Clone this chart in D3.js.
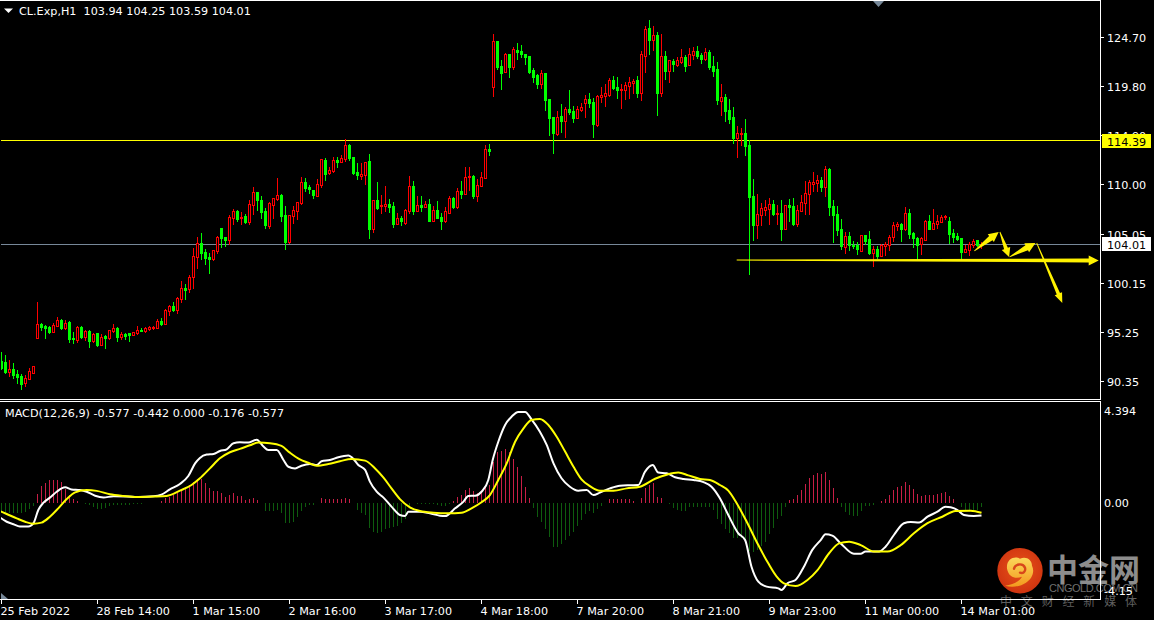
<!DOCTYPE html>
<html>
<head>
<meta charset="utf-8">
<title>CL.Exp H1</title>
<script src="https://cdn.jsdelivr.net/npm/d3@7/dist/d3.min.js"></script>
<style>
  html, body { margin: 0; padding: 0; background: #000; overflow: hidden; }
  svg { display: block; }
  text { font-family: "DejaVu Sans", sans-serif; font-size: 11.2px; fill: #fff; }
</style>
</head>
<body>
<svg id="chart" width="1154" height="620"></svg>
<script>
// Hourly candles, one entry per bar
const opens = [
92.3,92.2,91.2,91.5,91.0,90.8,90.1,90.5,91.1,94.6,
96.0,95.8,95.7,95.2,95.8,96.4,95.6,96.2,94.6,94.4,
95.7,94.7,95.3,94.3,95.1,93.9,94.8,94.6,95.3,95.6,
94.7,95.0,95.1,94.9,95.1,95.4,95.3,95.5,95.6,95.6,
96.3,96.0,97.3,97.8,97.4,98.5,99.6,99.5,100.7,102.7,
104.1,103.2,102.7,102.5,103.3,105.6,104.7,104.4,106.6,107.3,
106.6,106.8,106.2,107.9,109.2,108.4,107.3,105.8,107.9,108.5,
108.9,106.9,104.2,106.8,107.3,108.1,110.2,109.7,109.4,108.8,
109.9,112.4,111.1,111.3,112.4,112.2,112.5,113.9,112.7,111.2,
110.8,110.9,112.3,105.5,108.4,107.8,107.8,108.0,107.8,106.0,
106.6,106.1,107.3,109.8,107.3,107.9,107.7,108.0,106.3,107.4,
106.7,106.3,107.1,108.6,107.7,109.3,109.0,110.7,110.8,108.8,
109.8,110.6,113.5,119.7,124.3,121.8,121.2,123.0,121.7,123.4,
123.3,123.0,122.8,121.4,120.9,120.0,121.1,118.5,116.7,115.0,
116.8,116.3,117.5,117.3,116.6,117.4,118.1,118.5,118.2,115.9,
118.7,118.8,118.9,120.4,119.7,119.4,119.4,119.8,120.1,120.4,
119.1,122.8,125.6,124.4,124.9,119.1,122.8,121.3,122.3,121.9,
122.2,122.7,121.9,122.9,123.3,122.9,122.5,123.2,121.8,121.5,
118.3,118.7,117.4,116.7,114.6,115.0,115.1,113.9,108.8,105.9,
106.9,107.4,107.5,108.0,107.0,107.1,105.5,107.9,107.8,106.0,
107.3,108.1,109.0,110.0,110.1,110.4,109.7,111.5,107.8,107.0,
105.5,103.7,104.8,103.9,103.9,103.3,104.9,104.5,103.1,103.5,
102.8,103.8,103.9,104.7,105.8,106.0,105.5,107.1,105.1,104.6,
104.0,104.4,106.3,105.5,106.0,106.2,106.7,106.3,105.1,104.8,
104.6,103.2,103.4,103.9,104.4,103.94];

const highs = [
93.2,92.9,92.4,92.1,91.4,91.0,90.9,91.6,91.8,98.2,
96.1,95.9,95.8,96.1,96.7,96.5,96.4,96.3,95.2,95.8,
95.8,95.4,95.4,95.1,95.1,95.0,94.9,95.4,96.0,95.7,
95.2,95.1,95.1,95.2,95.8,95.6,95.7,95.8,95.8,96.5,
96.6,97.5,97.9,98.2,98.7,100.3,100.0,100.9,103.6,104.7,
105.1,103.5,103.1,103.4,104.8,105.6,104.7,106.9,107.5,107.4,
107.2,107.0,108.4,109.7,109.2,108.8,107.6,108.2,108.6,110.6,
109.0,107.8,106.9,107.8,108.2,110.7,110.6,109.9,109.4,110.5,
112.5,112.6,111.7,112.7,112.7,112.9,114.5,114.0,112.7,112.1,
112.1,112.2,113.0,108.4,110.2,108.9,109.8,108.5,108.2,107.1,
106.8,107.5,110.8,110.3,108.8,108.8,108.3,108.5,107.8,108.3,
107.1,107.7,108.8,108.7,109.6,110.3,111.7,111.7,110.9,110.5,
111.2,113.9,114.0,125.0,124.3,122.4,123.1,123.0,123.7,124.1,
123.9,123.0,122.8,121.6,121.0,121.4,121.1,118.5,116.7,117.3,
118.0,117.7,119.4,117.8,117.8,118.1,118.9,119.1,118.6,118.9,
119.7,120.0,120.6,120.8,120.7,120.0,120.2,120.7,120.5,120.8,
123.3,125.8,126.4,125.8,125.2,125.0,123.3,122.4,122.5,122.7,
123.5,122.9,123.6,123.7,123.8,123.1,123.6,123.4,122.8,122.2,
120.0,119.0,118.5,117.7,115.8,115.6,116.5,114.4,110.5,109.0,
108.1,108.4,108.6,108.4,107.9,108.4,107.9,108.5,108.6,107.9,
108.9,110.3,110.4,111.2,110.9,110.7,111.8,111.6,108.4,107.8,
106.5,105.2,105.2,104.3,104.2,104.9,104.9,105.3,103.8,103.8,
104.0,104.2,104.9,106.2,106.2,106.1,107.7,107.5,105.2,104.7,
104.7,106.4,106.9,107.5,106.9,106.9,106.9,106.7,105.5,105.1,
104.6,103.9,104.2,104.5,104.4,104.25];

const lows = [
91.5,91.1,90.8,90.6,90.1,89.5,89.8,90.5,91.1,94.6,
95.4,94.6,95.1,95.2,95.8,95.5,95.5,94.2,94.1,94.2,
94.6,94.4,93.7,94.2,93.8,93.9,93.6,94.5,95.2,94.3,
94.5,94.5,94.3,94.9,95.0,95.3,95.2,95.4,95.5,95.6,
95.9,96.0,96.9,97.3,97.1,98.2,98.5,99.2,99.6,101.6,
102.5,102.0,101.1,102.4,103.1,103.7,103.8,104.0,106.0,106.3,
106.0,106.1,106.0,107.0,107.4,106.6,105.6,105.6,106.6,108.4,
106.3,103.5,104.1,106.1,106.5,108.0,109.3,109.1,108.6,108.8,
109.7,110.4,111.0,111.2,111.7,112.2,112.3,112.4,111.0,110.5,
110.5,110.0,104.6,105.2,107.5,107.1,107.3,107.2,105.7,106.0,
105.9,106.0,107.1,107.0,107.3,107.3,107.7,106.3,106.3,106.6,
105.5,106.2,107.1,107.6,107.6,108.6,109.0,109.4,108.6,108.3,
109.8,110.6,112.9,118.8,121.5,119.5,121.2,120.7,121.5,122.5,
122.7,122.0,121.1,120.2,119.6,119.6,117.4,114.9,113.1,114.9,
115.2,114.7,117.0,116.2,116.6,117.3,116.7,117.7,114.7,115.8,
118.2,117.8,118.8,119.5,118.6,117.6,118.5,118.6,119.1,118.7,
118.4,121.2,123.0,123.4,116.9,118.8,120.5,120.2,121.3,121.8,
122.1,121.3,121.9,122.5,122.6,122.1,122.4,121.5,120.8,118.0,
116.9,116.3,116.1,114.1,112.7,113.9,112.9,101.0,104.4,104.6,
105.9,106.9,106.0,106.9,106.0,104.4,105.5,106.3,105.9,105.8,
107.3,107.0,107.0,109.3,109.3,109.3,108.8,106.9,104.2,104.9,
103.5,103.1,103.4,103.6,103.0,103.3,104.0,103.0,101.8,102.6,
102.8,102.9,103.4,104.3,105.4,104.3,105.4,104.6,103.7,102.5,
103.0,104.4,105.5,105.5,105.6,106.2,106.5,104.1,104.2,104.4,
102.5,103.2,102.9,103.7,103.8,103.59];

const closes = [
91.6,91.2,91.5,90.9,90.7,90.0,90.6,91.3,91.8,96.0,
95.7,95.6,95.2,95.9,96.4,95.6,96.1,94.5,94.5,95.7,
94.7,95.3,94.3,95.0,93.9,94.7,94.6,95.4,95.6,94.7,
95.0,94.8,94.9,95.2,95.4,95.3,95.6,95.7,95.7,96.3,
96.0,97.4,97.8,97.4,98.6,99.6,99.4,100.7,102.8,104.1,
103.1,102.6,102.5,103.4,104.7,104.6,104.4,106.7,107.3,106.5,
106.7,106.2,108.0,109.2,108.4,107.2,105.9,108.1,108.6,108.9,
106.8,104.2,106.9,107.4,108.2,110.2,109.6,109.5,108.9,110.0,
112.5,111.0,111.4,112.4,112.2,112.6,113.9,112.6,111.1,110.9,
111.0,112.2,105.5,108.4,107.6,107.9,108.0,107.7,106.0,106.6,
106.3,107.4,109.8,107.3,107.9,107.7,108.0,106.3,107.4,106.6,
106.3,107.3,108.6,107.7,109.3,109.0,110.7,110.8,108.8,109.9,
110.7,113.5,113.3,124.3,121.7,121.1,123.0,121.7,123.5,123.2,
123.0,122.7,121.2,120.7,120.0,121.1,118.4,116.6,115.1,116.7,
116.3,117.5,117.2,116.6,117.5,117.7,118.5,118.1,116.0,118.8,
118.9,119.1,120.4,119.6,119.4,119.5,119.9,120.2,120.3,119.1,
123.0,125.5,124.4,124.9,119.1,122.8,121.3,122.4,122.0,122.4,
122.7,121.8,123.0,123.3,122.8,122.5,123.2,121.7,121.3,118.4,
118.7,117.3,116.5,114.6,115.1,115.1,113.8,108.7,105.9,107.0,
107.6,107.7,108.0,107.0,107.1,105.5,107.9,107.7,106.0,107.4,
108.2,109.1,110.2,110.2,110.4,109.7,111.5,107.7,106.9,105.4,
103.8,104.8,103.9,103.8,103.5,104.9,104.3,103.1,103.5,102.8,
103.9,104.0,104.7,105.9,106.0,105.5,107.1,105.0,104.6,103.9,
104.6,106.3,105.5,106.1,106.3,106.7,106.8,105.0,104.7,104.5,
103.2,103.5,104.0,104.3,103.9,104.01];

// MACD histogram, one entry per bar
const histogram = [
-0.44,-0.47,-0.47,-0.47,-0.44,-0.44,-0.39,-0.28,-0.12,0.44,
0.83,0.99,1.12,1.12,1.12,1.01,0.67,0.40,0.21,0.13,
0,-0.02,-0.09,-0.18,-0.25,-0.28,-0.21,-0.12,-0.06,-0.06,
-0.06,-0.06,-0.06,-0.03,-0.03,-0.03,0,0,0.04,0.04,
0.12,0.25,0.33,0.40,0.52,0.61,0.77,0.88,1.04,1.15,
1.15,0.96,0.72,0.61,0.60,0.52,0.29,0.40,0.48,0.37,
0.36,0.17,0.20,0.25,0.17,0,-0.36,-0.34,-0.34,-0.31,
-0.47,-0.91,-0.91,-0.87,-0.63,-0.34,-0.15,-0.09,-0.09,0,
0.26,0.21,0.21,0.21,0.21,0.21,0.26,0.20,0.01,-0.31,
-0.47,-0.55,-1.18,-1.34,-1.39,-1.34,-1.21,-1.18,-1.14,-1.07,
-0.91,-0.75,-0.23,0,-0.03,-0.03,-0.03,-0.03,-0.03,-0.06,
-0.12,-0.12,-0.03,0.13,0.29,0.40,0.64,0.74,0.61,0.52,
0.56,0.83,0.88,1.99,2.47,2.52,2.58,2.47,2.12,1.75,
1.31,0.80,0.25,-0.20,-0.66,-0.87,-1.23,-1.61,-2.06,-2.06,
-1.93,-1.74,-1.55,-1.37,-1.07,-0.79,-0.50,-0.34,-0.44,-0.28,
-0.12,0,0.20,0.23,0.23,0.20,0.20,0.20,0.13,0,
0.26,0.72,0.88,0.96,0.33,0.25,0,-0.02,-0.23,-0.31,
-0.34,-0.34,-0.18,-0.15,-0.15,-0.15,-0.15,-0.18,-0.31,-0.75,
-0.98,-1.23,-1.39,-1.66,-1.66,-1.66,-1.90,-2.25,-2.30,-2.21,
-2.01,-1.82,-1.47,-1.18,-0.75,-0.60,-0.15,0.17,0.21,0.40,
0.64,0.93,1.20,1.36,1.44,1.40,1.50,1.12,0.72,0.25,
-0.18,-0.39,-0.55,-0.58,-0.58,-0.34,-0.12,-0.12,-0.06,0,
0.10,0.21,0.40,0.64,0.77,0.83,1.01,0.87,0.69,0.45,
0.37,0.39,0.40,0.42,0.44,0.48,0.55,0.36,0.21,0.01,
-0.18,-0.31,-0.31,-0.31,-0.31,-0.176];

// MACD line, sampled at the turning points along the bar index
const macdBars = [
-0.4,1.3,3.0,4.6,6.7,8.0,9.2,10.5,12.1,13.8,15.9,17.5,19.6,21.3,23.4,25.5,28.0,31.3,34.2,38.0,
40.0,42.1,44.6,46.7,48.4,49.6,51.3,53.0,54.6,56.3,58.0,59.6,61.7,63.8,65.5,66.7,68.8,70.5,71.7,73.4,
75.0,77.1,78.8,80.0,82.1,84.2,86.7,88.0,89.2,90.9,92.1,93.8,95.5,97.5,99.6,100.9,101.7,104.6,107.1,109.6,
110.9,113.4,115.5,116.7,118.4,120.0,121.7,122.8,124.2,125.9,127.5,129.2,130.9,132.5,134.6,136.3,138.0,140.0,142.1,144.2,
146.3,148.0,149.6,152.1,154.6,157.1,159.2,160.9,162.8,164.2,166.3,168.4,170.5,173.0,175.5,177.5,179.6,181.7,184.2,185.9,
187.5,189.2,191.3,194.2,195.0,196.5,198.5,200.6,202.7,204.8,206.0,207.7,209.8,213.1,214.8,216.0,219.4,221.0,223.1,225.6,
227.3,229.4,231.5,234.0,236.0,237.3,239.0,240.6,243.1,245];
const macdValues = [
-0.66,-0.87,-0.99,-1.10,-1.10,-0.94,-0.31,0.04,0.28,0.56,0.77,0.67,0.64,0.56,0.37,0.29,0.34,0.33,0.31,0.34,
0.42,0.67,0.93,1.31,1.91,2.17,2.33,2.36,2.50,2.58,2.87,2.91,2.90,3.04,2.71,2.55,2.55,2.07,1.75,1.67,
1.80,1.88,1.83,2.01,2.07,2.20,2.28,2.12,1.83,1.60,1.04,0.56,0.28,-0.15,-0.55,-0.60,-0.39,-0.39,-0.47,-0.58,
-0.60,-0.23,0.09,0.36,0.37,0.56,1.12,2.07,2.94,3.74,4.13,4.36,4.36,4.01,3.42,2.79,1.91,1.20,0.80,0.61,
0.64,0.40,0.52,0.72,0.85,0.87,0.88,1.52,1.83,1.47,1.44,1.25,1.17,1.12,1.02,0.80,0.25,-0.55,-1.42,-1.74,
-3.01,-3.72,-3.96,-4.04,-4.12,-3.80,-3.64,-3.01,-2.21,-1.74,-1.47,-1.53,-1.90,-2.39,-2.39,-2.29,-2.29,-2.06,-1.50,-0.94,
-0.88,-0.91,-0.63,-0.39,-0.15,-0.18,-0.31,-0.55,-0.60,-0.577];

// Signal line, sampled the same way
const signalBars = [
-0.4,1.3,3.8,5.9,8.0,10.0,12.1,14.2,16.3,18.4,21.3,23.8,27.1,30.5,33.8,38.0,41.3,44.6,47.5,49.6,
52.1,54.6,57.1,59.6,62.1,64.2,67.1,70.0,72.1,74.6,76.7,78.8,81.7,84.6,87.5,90.9,93.4,95.5,97.5,99.6,
102.1,104.6,108.0,111.7,115.0,117.5,120.0,122.1,124.2,126.3,128.4,130.5,132.5,134.6,136.7,138.8,140.9,143.0,145.0,147.1,
149.6,153.0,156.3,159.6,163.4,166.3,169.2,171.7,174.6,177.1,179.6,181.7,183.8,186.3,189.2,191.7,193.8,195.6,198.5,201.5,
204.0,206.9,209.4,211.9,214.8,218.1,221.5,224.8,228.1,231.5,235.2,238.5,242.3,245];
const signalValues = [
-0.36,-0.50,-0.71,-0.87,-0.96,-0.91,-0.63,-0.23,0.21,0.53,0.64,0.60,0.44,0.36,0.31,0.33,0.36,0.61,0.88,1.20,
1.67,2.15,2.44,2.60,2.77,2.90,2.87,2.74,2.42,2.10,1.94,1.80,1.88,2.01,2.12,2.04,1.67,1.23,0.72,0.21,
-0.18,-0.36,-0.44,-0.47,-0.44,-0.23,0.06,0.40,1.12,1.91,2.94,3.58,3.98,4.02,3.74,3.18,2.47,1.75,1.15,0.83,
0.61,0.61,0.72,0.80,1.18,1.37,1.47,1.34,1.17,1.12,0.88,0.61,0.01,-0.87,-1.98,-2.85,-3.48,-3.80,-3.93,-3.64,
-3.17,-2.37,-1.90,-1.82,-1.98,-2.29,-2.29,-1.98,-1.42,-0.94,-0.63,-0.36,-0.34,-0.442];

// Axis labels
const priceTicks = [124.70, 119.80, 114.90, 110.00, 105.05, 100.15, 95.25, 90.35];
const timeBars = [0, 24, 48, 72, 96, 120, 144, 168, 192, 216, 240];
const timeLabels = ["25 Feb 2022", "28 Feb 14:00", "1 Mar 15:00", "2 Mar 16:00", "3 Mar 17:00",
                    "4 Mar 18:00", "7 Mar 20:00", "8 Mar 21:00", "9 Mar 23:00", "11 Mar 00:00", "14 Mar 01:00"];
const macdTicks = [["4.394", 4.394], ["0.00", 0], ["-4.15", -4.15]];

// Horizontal levels
const resistanceLevel = 114.39;
const lastPrice = 104.01;

// Hand-drawn projection arrows: start bar, start price, tip bar, tip price
const arrowStartBars = [183.8, 243.2, 249.6, 252.0, 258.8];
const arrowStartPrices = [102.4, 103.3, 105.2, 102.7, 104.1];
const arrowTipBars = [274.3, 249.3, 251.9, 258.5, 265.2];
const arrowTipPrices = [102.35, 105.2, 102.7, 104.1, 98.1];

const svg = d3.select("#chart");
const plotLeft = 1, plotRight = 1100, mainTop = 1, mainBottom = 399, subTop = 402, subBottom = 599;

const x = d3.scaleLinear().domain([0, 1]).range([1.5, 5.5]);
const yPrice = d3.scaleLinear().domain([128.4, 88.4]).range([0, 400]);
const yMacd = d3.scaleLinear().domain([4.394, -4.15]).range([411.2, 590.65]);

const defs = svg.append("defs");
defs.append("clipPath").attr("id", "mainClip").append("rect")
  .attr("x", plotLeft).attr("y", mainTop).attr("width", plotRight - plotLeft).attr("height", mainBottom - mainTop);
defs.append("clipPath").attr("id", "subClip").append("rect")
  .attr("x", plotLeft).attr("y", subTop).attr("width", plotRight - plotLeft).attr("height", subBottom - subTop);

svg.append("rect").attr("width", 1154).attr("height", 620).attr("fill", "#000");

// ---- Price pane ----
const main = svg.append("g").attr("clip-path", "url(#mainClip)");

main.append("line").attr("x1", plotLeft).attr("x2", plotRight)
  .attr("y1", Math.round(yPrice(lastPrice)) + 0.5).attr("y2", Math.round(yPrice(lastPrice)) + 0.5)
  .attr("stroke", "#778899").attr("stroke-width", 1);
main.append("line").attr("x1", plotLeft).attr("x2", plotRight)
  .attr("y1", Math.floor(yPrice(resistanceLevel)) + 0.5).attr("y2", Math.floor(yPrice(resistanceLevel)) + 0.5)
  .attr("stroke", "#ffff00").attr("stroke-width", 1);

const candles = main.append("g").attr("shape-rendering", "crispEdges");
opens.forEach((open, i) => {
  const close = closes[i];
  const up = close > open;
  const color = up ? "#ff0000" : "#00ff00";
  const cx = x(i);
  const top = Math.round(yPrice(Math.max(open, close)));
  const bottom = Math.round(yPrice(Math.min(open, close)));
  const g = candles.append("g");
  g.append("line").attr("x1", cx).attr("x2", cx)
    .attr("y1", Math.round(yPrice(highs[i]))).attr("y2", Math.round(yPrice(lows[i])) + 1)
    .attr("stroke", color).attr("stroke-width", 1);
  if (up) {
    g.append("rect").attr("x", cx - 1).attr("width", 2)
      .attr("y", top + 0.5).attr("height", Math.max(bottom - top, 1))
      .attr("fill", "#000").attr("stroke", color).attr("stroke-width", 1);
  } else {
    g.append("rect").attr("x", cx - 1.5).attr("width", 3)
      .attr("y", top).attr("height", Math.max(bottom - top + 1, 1))
      .attr("fill", color);
  }
});

// Tapered arrow: a thin tail widening toward a broad head
function arrowPath(x0, y0, x1, y1, tailW, neckW, headW, headL) {
  const len = Math.hypot(x1 - x0, y1 - y0);
  const ux = (x1 - x0) / len, uy = (y1 - y0) / len;
  const nx = -uy, ny = ux;
  const bx = x1 - ux * headL, by = y1 - uy * headL;
  const pt = (px, py, off) => [px + nx * off, py + ny * off];
  const pts = [
    pt(x0, y0, tailW / 2), pt(bx, by, neckW / 2), pt(bx, by, headW / 2), [x1, y1],
    pt(bx, by, -headW / 2), pt(bx, by, -neckW / 2), pt(x0, y0, -tailW / 2)
  ];
  return d3.line()(pts) + "Z";
}
const arrowShapes = [
  [1, 4, 10, 10],
  [0.8, 5.5, 10, 10],
  [0.8, 4, 9, 9],
  [0.8, 5.5, 10, 10],
  [0.8, 3.5, 8, 10]
];
arrowStartBars.forEach((b, i) => {
  const s = arrowShapes[i];
  svg.append("path")
    .attr("d", arrowPath(x(b), yPrice(arrowStartPrices[i]), x(arrowTipBars[i]), yPrice(arrowTipPrices[i]), s[0], s[1], s[2], s[3]))
    .attr("fill", "#fff200");
});

// ---- MACD pane ----
const sub = svg.append("g").attr("clip-path", "url(#subClip)");

sub.append("g").attr("shape-rendering", "crispEdges")
  .selectAll("line").data(histogram).join("line")
  .attr("x1", (d, i) => x(i)).attr("x2", (d, i) => x(i))
  .attr("y1", yMacd(0)).attr("y2", d => yMacd(d))
  .attr("stroke", d => d >= 0 ? "#c81e46" : "#0e5c0e")
  .attr("stroke-width", 1);

const curve = (bars, values) => d3.line()
  .x((d, i) => x(bars[i])).y(d => yMacd(d))
  .curve(d3.curveMonotoneX)(values);

sub.append("path").attr("d", curve(macdBars, macdValues))
  .attr("fill", "none").attr("stroke", "#fff").attr("stroke-width", 2);
sub.append("path").attr("d", curve(signalBars, signalValues))
  .attr("fill", "none").attr("stroke", "#ffff00").attr("stroke-width", 2);

// Pane markers
svg.append("path").attr("d", d3.line()([[873, 1], [884, 1], [878.5, 7]]) + "Z").attr("fill", "#778899");
svg.append("path").attr("d", d3.line()([[1, 593], [8, 599], [1, 599]]) + "Z").attr("fill", "#778899");
svg.append("path").attr("d", d3.line()([[4, 8.5], [13, 8.5], [8.5, 13]]) + "Z").attr("fill", "#fff");

// ---- Watermark ----
const logoGrad = defs.append("radialGradient").attr("id", "logoFill").attr("cx", "50%").attr("cy", "45%").attr("r", "55%");
logoGrad.append("stop").attr("offset", "0%").attr("stop-color", "#e8531a");
logoGrad.append("stop").attr("offset", "100%").attr("stop-color", "#cf3410");
const swirlGrad = defs.append("linearGradient").attr("id", "swirlFill").attr("x1", "0").attr("y1", "0").attr("x2", "0").attr("y2", "1");
swirlGrad.append("stop").attr("offset", "0%").attr("stop-color", "#fbd75a");
swirlGrad.append("stop").attr("offset", "100%").attr("stop-color", "#f39a1e");

const logo = svg.append("g").attr("transform", "translate(1020,570.7)");
logo.append("circle").attr("r", 22.7).attr("fill", "url(#logoFill)");
logo.append("path")
  .attr("d", "M-13,-2 C-14,-12 -5,-15 0,-12 C6,-15 12,-11 12,-5 C15,1 12,8 6,12 C0,16 -8,17 -15,15 C-7,14 -1,11 2,6 C-3,8 -11,8 -13,-2 Z")
  .attr("fill", "url(#swirlFill)");
logo.append("path")
  .attr("d", "M-6,-2 C-5,-7 3,-8 5,-3 C6,1 3,3 0,2")
  .attr("fill", "none").attr("stroke", "#d8471a").attr("stroke-width", 2.4).attr("stroke-linecap", "round");

svg.append("text").attr("x", 1047).attr("y", 581).text("中金网")
  .style("font-family", "'Noto Sans CJK SC'").style("font-weight", 700).style("font-size", "31px").style("fill", "#8d8d8d");
svg.append("text").attr("x", 1049).attr("y", 592).attr("textLength", 89).text("CNGOLD.COM.CN")
  .style("font-family", "'Liberation Sans'").style("font-size", "11px").style("fill", "#6f6f6f");
svg.append("text").attr("x", 1000).attr("y", 606).attr("textLength", 137).text("中文财经新媒体")
  .style("font-family", "'Noto Sans CJK SC'").style("font-size", "12px").style("fill", "#5f5f5f");

// ---- Frames and axes ----
const frame = svg.append("g").attr("stroke", "#fff").attr("stroke-width", 1).attr("shape-rendering", "crispEdges");
const seg = (x1, y1, x2, y2) => frame.append("line").attr("x1", x1).attr("y1", y1).attr("x2", x2).attr("y2", y2);
seg(0, 0.5, 1101, 0.5);
seg(0, 399.5, 1101, 399.5);
seg(0, 401.5, 1101, 401.5);
seg(0, 599.5, 1101, 599.5);
seg(1100.5, 0, 1100.5, 400);
seg(1100.5, 401, 1100.5, 600);

priceTicks.forEach(p => {
  seg(1101, Math.round(yPrice(p)) + 0.5, 1104, Math.round(yPrice(p)) + 0.5);
  svg.append("text").attr("x", 1107).attr("y", Math.round(yPrice(p)) + 4.5).text(p.toFixed(2));
});

timeBars.forEach((b, i) => {
  seg(x(b), 600, x(b), 604);
  svg.append("text").attr("x", x(b) - 1).attr("y", 615).text(timeLabels[i]);
});

macdTicks.forEach(([label, v]) => {
  svg.append("text").attr("x", 1104).attr("y", yMacd(v) + 4).text(label);
});

// Level tags on the price axis
[[resistanceLevel, "#ffff00"], [lastPrice, "#fff"]].forEach(([p, bg]) => {
  const yy = Math.ceil(yPrice(p));
  svg.append("rect").attr("x", 1102).attr("y", yy - 7).attr("width", 49).attr("height", 14).attr("fill", bg);
  svg.append("text").attr("x", 1107).attr("y", yy + 4.5).text(p.toFixed(2)).style("fill", "#000");
});

// ---- Headers ----
svg.append("text").attr("x", 19).attr("y", 15).text("CL.Exp,H1  103.94 104.25 103.59 104.01").attr("xml:space", "preserve");
svg.append("text").attr("x", 5).attr("y", 417).text("MACD(12,26,9) -0.577 -0.442 0.000 -0.176 -0.577");
</script>
</body>
</html>
